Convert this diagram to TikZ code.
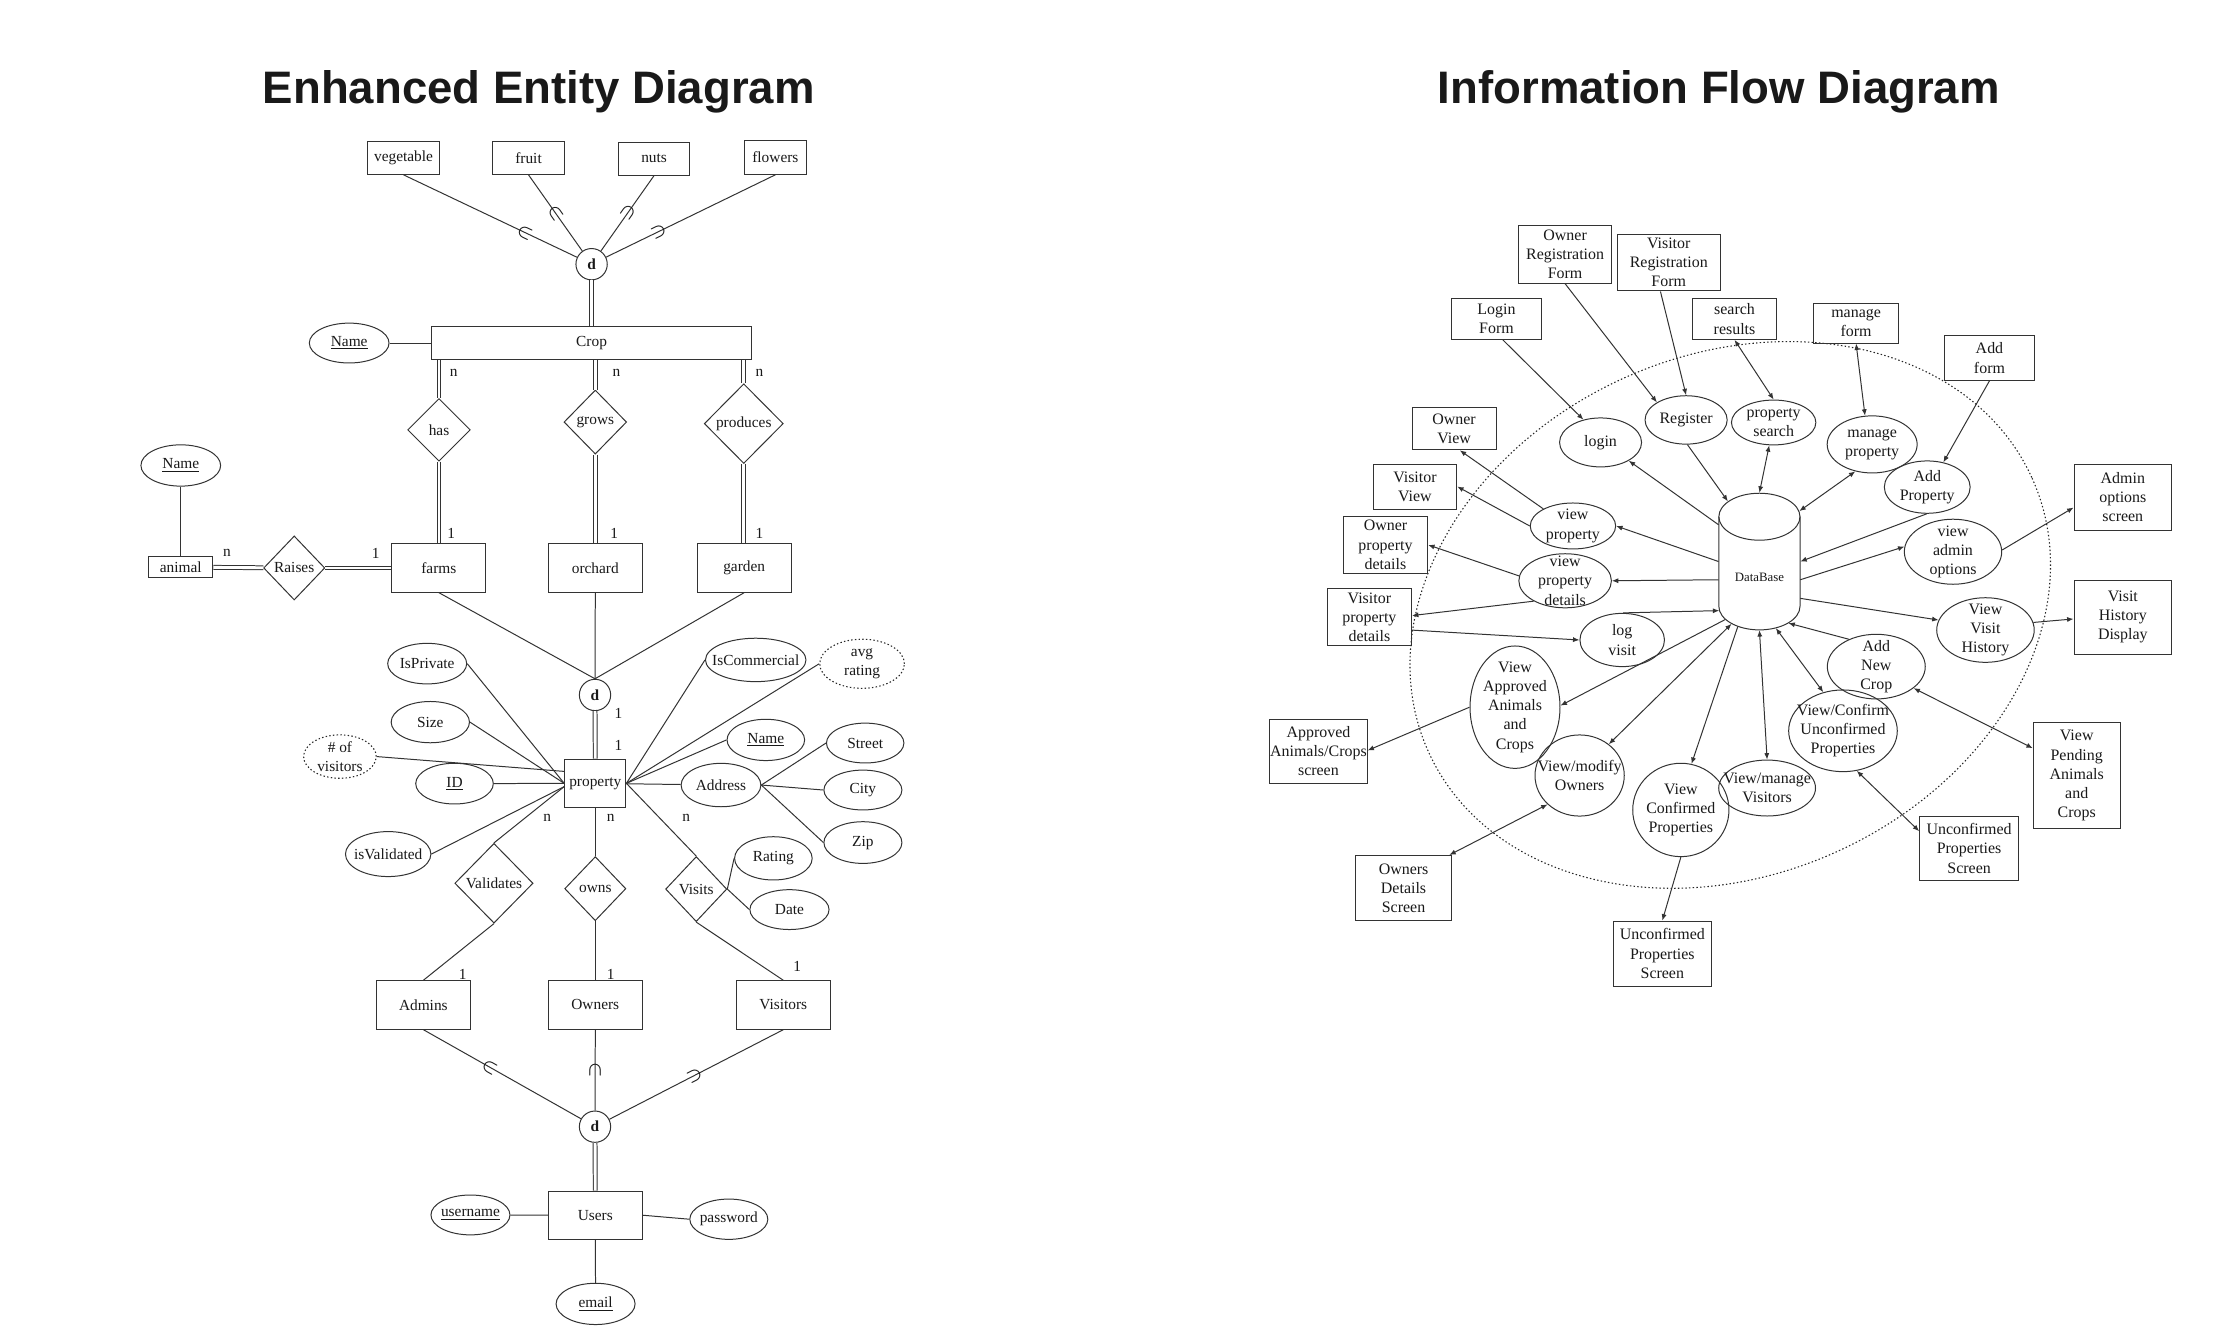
\documentclass[tikz,border=0pt]{standalone}
\usepackage{amsmath}
\usepackage{fontspec}
\setmainfont{Liberation Serif}
\newfontfamily\titlefont{Liberation Sans}
\usetikzlibrary{shapes.geometric, arrows.meta}
\begin{document}
\begin{tikzpicture}[x=1pt, y=-1pt,
  every node/.style={text=black!90},
  ln/.style={draw=black!80, line width=0.7pt},
  box/.style 2 args={draw=black!80, line width=0.7pt, rectangle, inner sep=0pt, align=center, minimum width=#1pt, minimum height=#2pt},
  ell/.style 2 args={draw=black!80, line width=0.7pt, ellipse, inner sep=0pt, minimum width=#1pt, minimum height=#2pt},
  dia/.style 2 args={draw=black!80, line width=0.7pt, diamond, inner sep=0pt, minimum width=#1pt, minimum height=#2pt},
  dcirc/.style={draw=black!80, line width=0.7pt, ellipse, inner sep=0pt, minimum width=22pt, minimum height=22pt},
  dotline/.style={dash pattern=on 1pt off 1.6pt, line width=0.75pt, draw=black!85},
  dbl/.style={double=white, double distance=2pt},
  sub/.style={sloped, allow upside down, inner sep=0pt, font=\fontsize{13}{13}\selectfont},
  card/.style={inner sep=0pt},
  arr/.style={-{Latex[length=4.5pt,width=3.6pt]}},
  darr/.style={{Latex[length=4.5pt,width=3.6pt]}-{Latex[length=4.5pt,width=3.6pt]}},
  every label/.style={align=center, inner sep=0pt},
  ttl/.style={font=\titlefont\bfseries\fontsize{32}{36}\selectfont, anchor=base, inner sep=0pt}
]
\useasboundingbox (0,0) rectangle (1568,941);
\fill[white] (0,0) rectangle (1568,941);

% ---------------- Titles ----------------
\node[ttl] (t1) at (378.5,72.6) {Enhanced Entity Diagram};
\node[ttl] (t2) at (1207.5,72.6) {Information Flow Diagram};

% ---------------- EER diagram ----------------
\begin{scope}[font=\fontsize{10.8}{13}\selectfont]
\node[box={50}{23}] (veg) at (283.5,111) {vegetable};
\node[box={50}{23}] (fruit) at (371.3,111) {fruit};
\node[box={50}{23}] (nuts) at (459.5,111.5) {nuts};
\node[box={43.5}{23.5}] (flowers) at (544.7,110.7) {flowers};
\node[dcirc] (d1) at (415.6,185.6) {\textbf{d}};
\node[box={225}{23}] (crop) at (415.6,241) {Crop};
\node[ell={56}{28}, label={center:\underline{Name}}] (cropname) at (245.3,241) {};
\node[dia={44}{44}, label={center:has}] (has) at (308.4,302) {};
\node[dia={44}{45}, label={center:grows}] (grows) at (418.2,296.5) {};
\node[dia={55.5}{56}, label={center:produces}] (produces) at (522.5,297.6) {};
\node[box={66}{34}] (farms) at (308.3,399) {farms};
\node[box={66}{34}] (orchard) at (418.2,399) {orchard};
\node[box={66}{34}] (garden) at (522.8,399) {garden};
\node[box={45}{15}] (animal) at (127,398.4) {animal};
\node[ell={56}{29}, label={center:\underline{Name}}] (animalname) at (127,327) {};
\node[dia={43}{45}, label={center:Raises}] (raises) at (206.7,399) {};
\node[dcirc] (d2) at (418,488.2) {\textbf{d}};
\node[box={43}{34}] (property) at (418.2,550.3) {property};

\node[ell={55.5}{28.5}, label={center:IsPrivate}] (isprivate) at (300.1,466.2) {};
\node[ell={55}{29}, label={center:Size}] (size) at (302.3,507.3) {};
\node[ell={51}{30.5}, dotline, label={center:\# of\\visitors}] (numvis) at (238.8,531.5) {};
\node[ell={54.5}{28.6}, label={center:\underline{ID}}] (id) at (319.3,550.5) {};
\node[ell={60}{31.6}, label={center:isValidated}] (isvalid) at (272.7,600) {};
\node[ell={70.6}{30.5}, label={center:IsCommercial}] (iscomm) at (530.9,463.6) {};
\node[ell={59.5}{34.5}, dotline, label={center:avg\\rating}] (avgrating) at (605.6,466.3) {};
\node[ell={54.5}{29}, label={center:\underline{Name}}] (propname) at (538,519.8) {};
\node[ell={56}{30.5}, label={center:Address}] (address) at (506.5,551.5) {};
\node[ell={54.4}{28}, label={center:Street}] (street) at (607.8,522) {};
\node[ell={54.8}{28}, label={center:City}] (city) at (606.2,555) {};
\node[ell={54.8}{29.3}, label={center:Zip}] (zip) at (606.2,591.9) {};
\node[ell={54.5}{30.4}, label={center:Rating}] (rating) at (543.3,603) {};
\node[ell={55.6}{28}, label={center:Date}] (date) at (554.6,639) {};
\node[dia={55}{56}, label={center:Validates}] (validates) at (347,620.5) {};
\node[dia={43}{45}, label={center:owns}] (owns) at (418.2,624.3) {};
\node[dia={43}{45.7}, label={center:Visits}] (visits) at (489.1,624.6) {};
\node[box={66}{34}] (admins) at (297.4,706) {Admins};
\node[box={66}{34}] (owners) at (418.2,706) {Owners};
\node[box={66}{34}] (visitors) at (550.3,706) {Visitors};
\node[dcirc] (d3) at (418,791.5) {\textbf{d}};
\node[box={66}{34}] (users) at (418.2,853.7) {Users};
\node[ell={55.5}{28}, label={center:\underline{username}}] (username) at (330.5,853.5) {};
\node[ell={54.8}{28.3}, label={center:password}] (password) at (512,856.5) {};
\node[ell={55.5}{29}, label={center:\underline{email}}] (email) at (418.4,916) {};

% cardinalities
\node[card] (c1) at (318.7,261.8) {n};
\node[card] (c2) at (433.1,261.8) {n};
\node[card] (c3) at (533.5,261.8) {n};
\node[card] (c4) at (317,374.7) {1};
\node[card] (c5) at (431.5,374.7) {1};
\node[card] (c6) at (533.5,374.7) {1};
\node[card] (c7) at (159.4,388.7) {n};
\node[card] (c8) at (264,388.7) {1};
\node[card] (c9) at (434.4,501) {1};
\node[card] (c10) at (434.4,523.4) {1};
\node[card] (c11) at (384.5,574.9) {n};
\node[card] (c12) at (429,574.9) {n};
\node[card] (c13) at (482,574.9) {n};
\node[card] (c14) at (325,684.2) {1};
\node[card] (c15) at (429,684.2) {1};
\node[card] (c16) at (560,678.6) {1};

% connectors
\draw[ln] (veg.south) -- node[sub, pos=0.70]{$\boldsymbol{\subset}$} (d1);
\draw[ln] (fruit.south) -- node[sub, pos=0.50]{$\boldsymbol{\subset}$} (d1);
\draw[ln] (nuts.south) -- node[sub, pos=0.49]{$\boldsymbol{\subset}$} (d1);
\draw[ln] (flowers.south) -- node[sub, pos=0.69]{$\boldsymbol{\subset}$} (d1);
\draw[ln, dbl] (d1) -- (crop);
\draw[ln] (cropname) -- (crop);
\draw[ln, dbl] (has.north |- crop.south) -- (has.north);
\draw[ln, dbl] (grows.north |- crop.south) -- (grows.north);
\draw[ln, dbl] (produces.north |- crop.south) -- (produces.north);
\draw[ln, dbl] (has.south) -- (has.south |- farms.north);
\draw[ln, dbl] (grows.south) -- (grows.south |- orchard.north);
\draw[ln, dbl] (produces.south) -- (produces.south |- garden.north);
\draw[ln] (animalname) -- (animal);
\draw[ln, dbl] (animal) -- (raises);
\draw[ln, dbl] (raises) -- (farms);
\draw[ln] (farms.south) -- (d2.north);
\draw[ln] (orchard.south) -- (d2.north);
\draw[ln] (garden.south) -- (d2.north);
\draw[ln, dbl] (d2) -- (property);
\draw[ln] (isprivate.east) -- (property.west);
\draw[ln] (size.east) -- (property.west);
\draw[ln] (numvis.east) -- (property.159);
\draw[ln] (id) -- (property);
\draw[ln] (isvalid.east) -- (property.186);
\draw[ln] (validates.north) -- (property.186);
\draw[ln] (property.south) -- (owns.north);
\draw[ln] (property.east) -- (visits.north);
\draw[ln] (iscomm.west) -- (property.east);
\draw[ln] (avgrating.west) -- (property.east);
\draw[ln] (propname.west) -- (property.east);
\draw[ln] (address) -- (property);
\draw[ln] (address.east) -- (street.west);
\draw[ln] (address.east) -- (city.west);
\draw[ln] (address.east) -- (zip.west);
\draw[ln] (rating.west) -- (visits.east);
\draw[ln] (date.west) -- (visits.east);
\draw[ln] (validates.south) -- (admins.north);
\draw[ln] (owns.south) -- (owners.north);
\draw[ln] (visits.south) -- (visitors.north);
\draw[ln] (admins.south) -- node[sub, pos=0.42]{$\boldsymbol{\subset}$} (d3);
\draw[ln] (owners.south) -- node[sub, pos=0.50]{$\boldsymbol{\subset}$} (d3);
\draw[ln] (visitors.south) -- node[sub, pos=0.51]{$\boldsymbol{\subset}$} (d3);
\draw[ln, dbl] (d3) -- (users);
\draw[ln] (username) -- (users);
\draw[ln] (users.east) -- (password.west);
\draw[ln] (users) -- (email);
\end{scope}

% ---------------- Information flow diagram ----------------
\begin{scope}[font=\fontsize{11.2}{13.5}\selectfont]
\node[ellipse, dotline, inner sep=0pt,
      minimum width=465.6pt, minimum height=364.8pt, rotate=24.5] (boundary) at (1215.5,432) {};

\node[box={65}{40.5}] (orf) at (1099.5,178.7) {Owner\\Registration\\Form};
\node[box={72.5}{40}] (vrf) at (1172.3,184.4) {Visitor\\Registration\\Form};
\node[box={62.6}{28.4}] (lf) at (1051.3,224.2) {Login\\Form};
\node[box={58.5}{28.4}] (sr) at (1218.5,224.2) {search\\results};
\node[box={60.2}{28}] (mf) at (1303.9,227) {manage\\form};
\node[box={62.7}{31.4}] (af) at (1397.6,251.5) {Add\\form};
\node[box={59}{29.4}] (ov) at (1021.5,301.3) {Owner\\View};
\node[box={58.7}{31.6}] (vv) at (994,341.8) {Visitor\\View};
\node[box={59.2}{39.7}] (opd) at (973.3,382.8) {Owner\\property\\details};
\node[box={59.2}{40.1}] (vispd) at (962,433.5) {Visitor\\property\\details};
\node[box={68.3}{45}] (aacs) at (926.2,527.8) {Approved\\Animals/Crops\\screen};
\node[box={68}{46}] (ods) at (986,624) {Owners\\Details\\Screen};
\node[box={68.5}{45.7}] (ups1) at (1167.8,669.9) {Unconfirmed\\Properties\\Screen};
\node[box={69.4}{45.5}] (ups2) at (1383.3,596) {Unconfirmed\\Properties\\Screen};
\node[box={61}{74.3}] (vpac) at (1458.9,544.9) {View\\Pending\\Animals\\and\\Crops};
\node[box={68.6}{46.3}] (aos) at (1491.3,349.2) {Admin\\options\\screen};
\node[box={68.6}{52.2}] (vhd) at (1491.3,433.6) {Visit\\History\\Display};

\node[ell={57.6}{34.4}, label={center:login}] (login) at (1124.4,310.8) {};
\node[ell={57.7}{34}, label={center:Register}] (reg) at (1184.5,295) {};
\node[ell={59.3}{31.5}, label={center:property\\search}] (ps) at (1246,296.8) {};
\node[ell={63.2}{40.1}, label={center:manage\\property}] (mp) at (1315.2,312.2) {};
\node[ell={60.3}{36.8}, label={center:Add\\Property}] (ap) at (1353.9,342.2) {};
\node[ell={60}{32.3}, label={center:view\\property}] (vp) at (1105,369.5) {};
\node[ell={65}{38}, label={center:view\\property\\details}] (vpdet) at (1099.5,408) {};
\node[ell={59.4}{37.4}, label={center:log\\visit}] (lv) at (1139.6,449.6) {};
\node[ell={63.2}{86}, label={center:View\\Approved\\Animals\\and\\Crops}] (vaac) at (1064.3,496.8) {};
\node[ell={62.7}{57}, label={center:View/modify\\Owners}] (vmo) at (1109.7,544.8) {};
\node[ell={67.6}{65.6}, label={center:View\\Confirmed\\Properties}] (vcp) at (1180.8,569) {};
\node[ell={68}{39.3}, label={center:View/manage\\Visitors}] (vmv) at (1241.4,553.6) {};
\node[ell={76.3}{57.4}, label={center:View/Confirm\\Unconfirmed\\Properties}] (vcup) at (1294.7,513.4) {};
\node[ell={68.8}{45.4}, label={center:Add\\New\\Crop}] (anc) at (1318.1,468.3) {};
\node[ell={68.4}{45.7}, label={center:view\\admin\\options}] (vao) at (1372,387.6) {};
\node[ell={68.5}{45.4}, label={center:View\\Visit\\History}] (vvh) at (1394.8,442.6) {};

% DataBase cylinder: top cap (drawn), body and bottom cap (outline drawn below)
\node[ell={57}{33}] (dbtop) at (1236,363) {};
\node[inner sep=0pt, minimum width=57pt, minimum height=63pt,
      label={[font=\fontsize{9}{11}\selectfont, yshift=-11pt]center:DataBase}] (db) at (1236,394.5) {};
\node[ellipse, inner sep=0pt, minimum width=57pt, minimum height=33pt] (dbbot) at (1236,426) {};
\draw[ln] (1207.5,363) -- (1207.5,426)
  .. controls (1207.5,435.1) and (1220.26,442.5) .. (1236,442.5)
  .. controls (1251.74,442.5) and (1264.5,435.1) .. (1264.5,426) -- (1264.5,363);

\draw[ln, arr] (lf.-73) -- (login.127);
\draw[ln, arr] (orf.south) -- (reg.149);
\draw[ln, arr] (vrf.-106) -- (reg.90);
\draw[ln, darr] (sr.south) -- (ps.90);
\draw[ln, darr] (mf.south) -- (mp.104);
\draw[ln, arr] (af.south) -- (ap.57);
\draw[ln, arr] (reg.-87) -- (dbtop.154);
\draw[ln, darr] (ps.-101) -- (dbtop.90);
\draw[ln, darr] (mp.-122) -- (dbtop.8);
\draw[ln, arr] (ap.-91) -- (db.0);
\draw[ln, arr] (db.-24) -- (vao.174);
\draw[ln, arr] (vao.2) -- (aos.192);
\draw[ln, arr] (db.-42) -- (vvh.168);
\draw[ln, arr] (vvh.9) -- (vhd.182);
\draw[ln, arr] (anc.135) -- (dbbot.-30);
\draw[ln, darr] (dbbot.-53) -- (vcup.117);
\draw[ln, darr] (anc.-30) -- (vpac.148);
\draw[ln, darr] (vcup.-71) -- (ups2.161);
\draw[ln, darr] (dbbot.-90) -- (vmv.90);
\draw[ln, arr] (dbbot.-137) -- (vcp.77);
\draw[ln, arr] (vcp.-90) -- (ups1.north);
\draw[ln, darr] (dbbot.-148) -- (vmo.47);
\draw[ln, darr] (vmo.-138) -- (ods.36);
\draw[ln, arr] (dbbot.-159) -- (vaac.2);
\draw[ln, arr] (vaac.180) -- (aacs.1);
\draw[ln, arr] (lv.88) -- (dbbot.-174);
\draw[ln, arr] (vispd.-17) -- (lv.180);
\draw[ln, arr] (vpdet.-147) -- (vispd.2);
\draw[ln, arr] (vpdet.174) -- (opd.east);
\draw[ln, arr] (db.-156) -- (vpdet.0);
\draw[ln, arr] (db.180) -- (vp.0);
\draw[ln, arr] (vp.150) -- (ov.-75);
\draw[ln, arr] (vp.180) -- (vv.east);
\draw[ln, arr] (db.138) -- (login.-33);
\end{scope}
\end{tikzpicture}
\end{document}
